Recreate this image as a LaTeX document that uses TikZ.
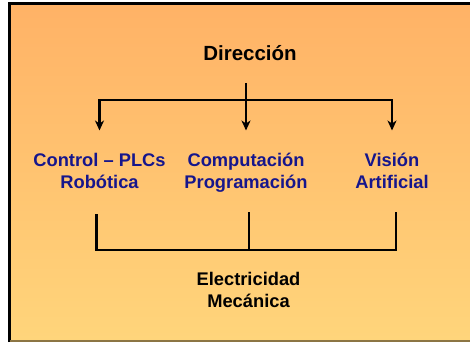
\documentclass[tikz,border=0pt]{standalone}
\usepackage{fontspec}
\setmainfont{Liberation Sans}
\usetikzlibrary{positioning, arrows.meta}

\definecolor{navy}{RGB}{22,22,140}
\definecolor{toporange}{RGB}{255,178,102}
\definecolor{botyellow}{RGB}{255,213,123}

\tikzset{
  topbox/.style={font=\bfseries\fontsize{20.5}{24}\selectfont, inner sep=0pt},
  branchbox/.style={font=\bfseries\fontsize{18.3}{22}\selectfont, text=navy, align=center,
    inner sep=0pt, text height=35pt, text depth=5pt, anchor=north},
  basebox/.style={font=\bfseries\fontsize{18.3}{22}\selectfont, align=center, inner sep=0pt},
  link/.style={line width=2.8pt},
  pointer/.style={link, shorten >=23pt, -{Stealth[length=10pt, width=9pt, inset=3pt]}},
}

\begin{document}
\begin{tikzpicture}[x=1pt, y=-1pt]
  \useasboundingbox (0,0) rectangle (470,342);
  \fill[white] (0,0) rectangle (470,342);
  % background panel
  \shade[top color=toporange, bottom color=botyellow] (9.5,3.5) rectangle (470,340.5);
  \draw[line width=3pt] (9.5,342) -- (9.5,3.5) -- (470,3.5);
  \draw[line width=1.5pt, black!45!botyellow] (9.5,341) -- (470,341);

  \node[topbox] (dir) at (250,53) {Dirección};
  \node[branchbox] (ctrl) at (99.5,153.5) {Control – PLCs\\Robótica};
  \node[branchbox] (comp) at (246,153.5) {Computación\\Programación};
  \node[branchbox] (vis) at (392,153.5) {Visión\\Artificial};
  \node[basebox] (elec) at (248.5,290) {Electricidad\\Mecánica};

  \coordinate (stem) at (246,83);
  \coordinate (split) at (246,100);
  \draw[pointer] (stem) -- (comp.north);
  \draw[pointer] (split) -| (ctrl.north);
  \draw[pointer] (split) -| (vis.north);

  % lower bracket
  \coordinate (lt) at (96.5,214);
  \coordinate (lb) at (96.5,250);
  \coordinate (rb) at (396,250);
  \coordinate (rt) at (396,212);
  \coordinate (mt) at (248.5,212);
  \coordinate (mb) at (248.5,250);
  \draw[link] (lt) -- (lb) -- (rb) -- (rt);
  \draw[link, line width=2pt] (mt) -- (mb);
\end{tikzpicture}
\end{document}
